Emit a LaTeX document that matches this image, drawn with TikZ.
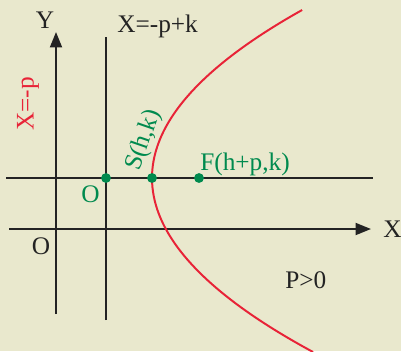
\documentclass[tikz,border=0pt]{standalone}
\usepackage{fontspec}
\setmainfont{Liberation Serif}
\usepackage{tikz}
\usetikzlibrary{arrows.meta, positioning, calc}
\definecolor{bgcream}{RGB}{233,232,205}
\definecolor{curvered}{RGB}{232,35,55}
\definecolor{ptgreen}{RGB}{0,138,78}
\definecolor{lineblack}{RGB}{35,35,35}
\tikzset{
  axisline/.style={draw=lineblack,line width=1.5pt},
  axisarr/.style={axisline,-{Triangle[length=11pt,width=8.5pt]}},
  curveline/.style={draw=curvered,line width=1.4pt},
  ptdot/.style={circle,fill=ptgreen,inner sep=0pt,minimum size=7pt},
  lbl/.style={inner sep=0pt,font=\fontsize{18}{20}\selectfont,text=lineblack},
  greenlbl/.style={lbl,text=ptgreen},
  redlbl/.style={lbl,text=curvered}
}
\begin{document}
\begin{tikzpicture}[x=0.025cm,y=-0.025cm]
  %% Background
  \fill[bgcream] (0,0) rectangle (401,351);
  \useasboundingbox (0,0) rectangle (401,351);

  %% Axes and lines
  \coordinate (yBot) at (56,314);
  \coordinate (yTop) at (56,32);
  \coordinate (xLeft) at (9,229);
  \coordinate (xRight) at (371,229);
  \coordinate (dirTop) at (106,37);
  \coordinate (dirBot) at (106,320);
  \coordinate (kLeft) at (6,178);
  \coordinate (kRight) at (373,178);
  \draw[axisarr] (yBot) -- (yTop);
  \draw[axisarr] (xLeft) -- (xRight);
  \draw[axisline] (dirBot) -- (dirTop);
  \draw[axisline] (kLeft) -- (kRight);

  %% Parabola, vertex (152,178), p = 47
  \draw[curveline] plot[domain=-16.8:17.4,samples=80,smooth]
      ({152+0.5319*\x*\x},{178+10*\x});

  %% Points
  \node[ptdot] (ptO) at (106,178) {};
  \node[ptdot] (ptS) at (152,178) {};
  \node[ptdot] (ptF) at (199,178) {};

  %% Labels
  \node[lbl,anchor=base] (labY) at (45,28) {Y};
  \node[lbl,anchor=base west] (labX) at (383,237) {X};
  \node[lbl,anchor=base west] (labDir) at (117,32) {X=-p+k};
  \node[lbl,anchor=base] (labO) at (41,254) {O};
  \node[greenlbl,anchor=base] (labOg) at (90.5,202) {O};
  \node[greenlbl,anchor=base west] (labF) at (200,170) {F(h+p,k)};
  \node[greenlbl,rotate=71] (labS) at (144,140) {S(h,k)};
  \node[redlbl,rotate=90] (labXp) at (28,104) {X=-p};
  \node[lbl,anchor=base west] (labP) at (285,288) {P>0};
\end{tikzpicture}
\end{document}
